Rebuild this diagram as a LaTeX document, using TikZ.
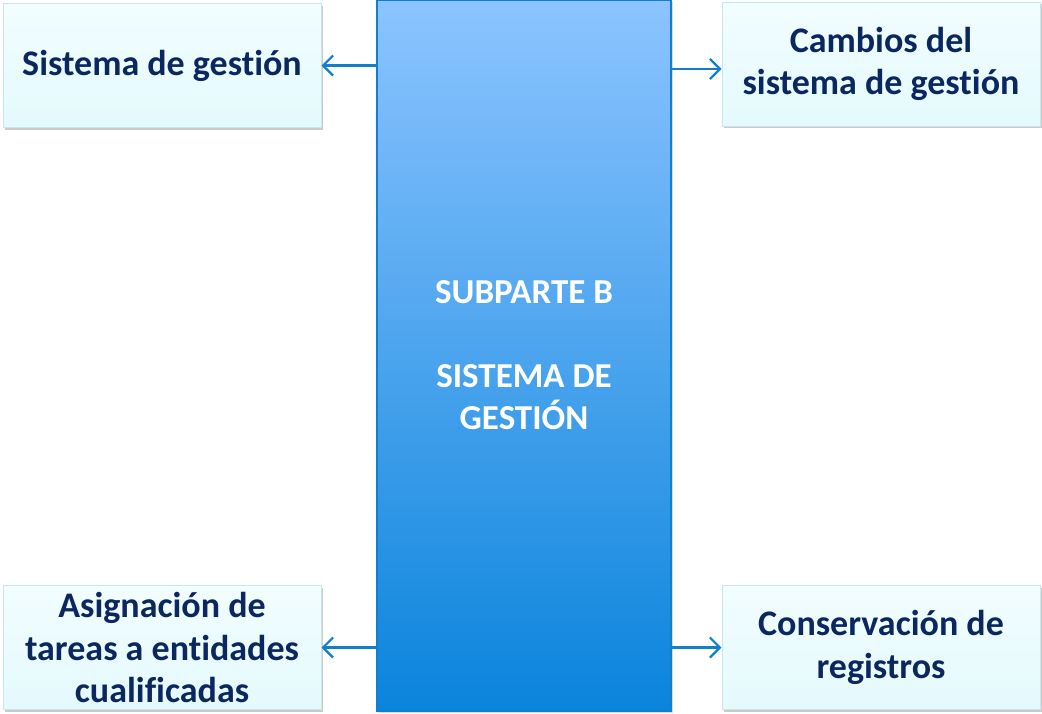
\documentclass[tikz,border=0pt]{standalone}
\usepackage{fontspec}
\setmainfont[Ligatures=NoCommon]{Carlito}
\usetikzlibrary{arrows.meta,shadows}
\definecolor{navy}{RGB}{10,40,95}
\definecolor{boxtop}{RGB}{242,253,255}
\definecolor{boxbot}{RGB}{228,250,253}
\definecolor{boxline}{RGB}{200,230,236}
\definecolor{ctop}{RGB}{140,196,255}
\definecolor{cbot}{RGB}{10,132,220}
\definecolor{cline}{RGB}{16,128,204}
\tikzset{
  sidebox/.style={draw=boxline, line width=1pt, top color=boxtop, bottom color=boxbot,
    minimum width=318pt, minimum height=124pt, align=center, text=navy,
    font=\fontsize{36}{42.5}\selectfont\bfseries,
    drop shadow={shadow xshift=2pt, shadow yshift=-2pt, fill=black!35, opacity=0.6}},
  centerbox/.style={draw=cline, line width=1.5pt, top color=ctop, bottom color=cbot,
    minimum width=294pt, minimum height=711pt, align=center, text=white,
    font=\fontsize{35}{42}\selectfont\bfseries,
    drop shadow={shadow xshift=2pt, shadow yshift=-2pt, fill=black!30, opacity=0.5}},
  arr/.style={draw=cline, line width=2.2pt, -{Straight Barb[length=10pt,width=20pt]}}
}
\begin{document}
\begin{tikzpicture}[x=1pt,y=-1pt]
\useasboundingbox (0,0) rectangle (1042,713);
\node[centerbox] (c) at (524,355.5) {SUBPARTE B\\[42pt]SISTEMA DE\\GESTIÓN};
\node[sidebox] (tl) at (162,65.5) {Sistema de gestión};
\node[sidebox] (tr) at (881,64) {Cambios del\\sistema de gestión};
\node[sidebox] (bl) at (162,647.5) {Asignación de\\tareas a entidades\\cualificadas};
\node[sidebox] (br) at (881,647.5) {Conservación de\\registros};
\coordinate (trin) at ([yshift=-5pt]tr.west);
\draw[arr] (c.west |- tl.east) -- (tl.east);
\draw[arr] (c.east |- trin) -- (trin);
\draw[arr] (c.west |- bl.east) -- (bl.east);
\draw[arr] (c.east |- br.west) -- (br.west);
\end{tikzpicture}
\end{document}
